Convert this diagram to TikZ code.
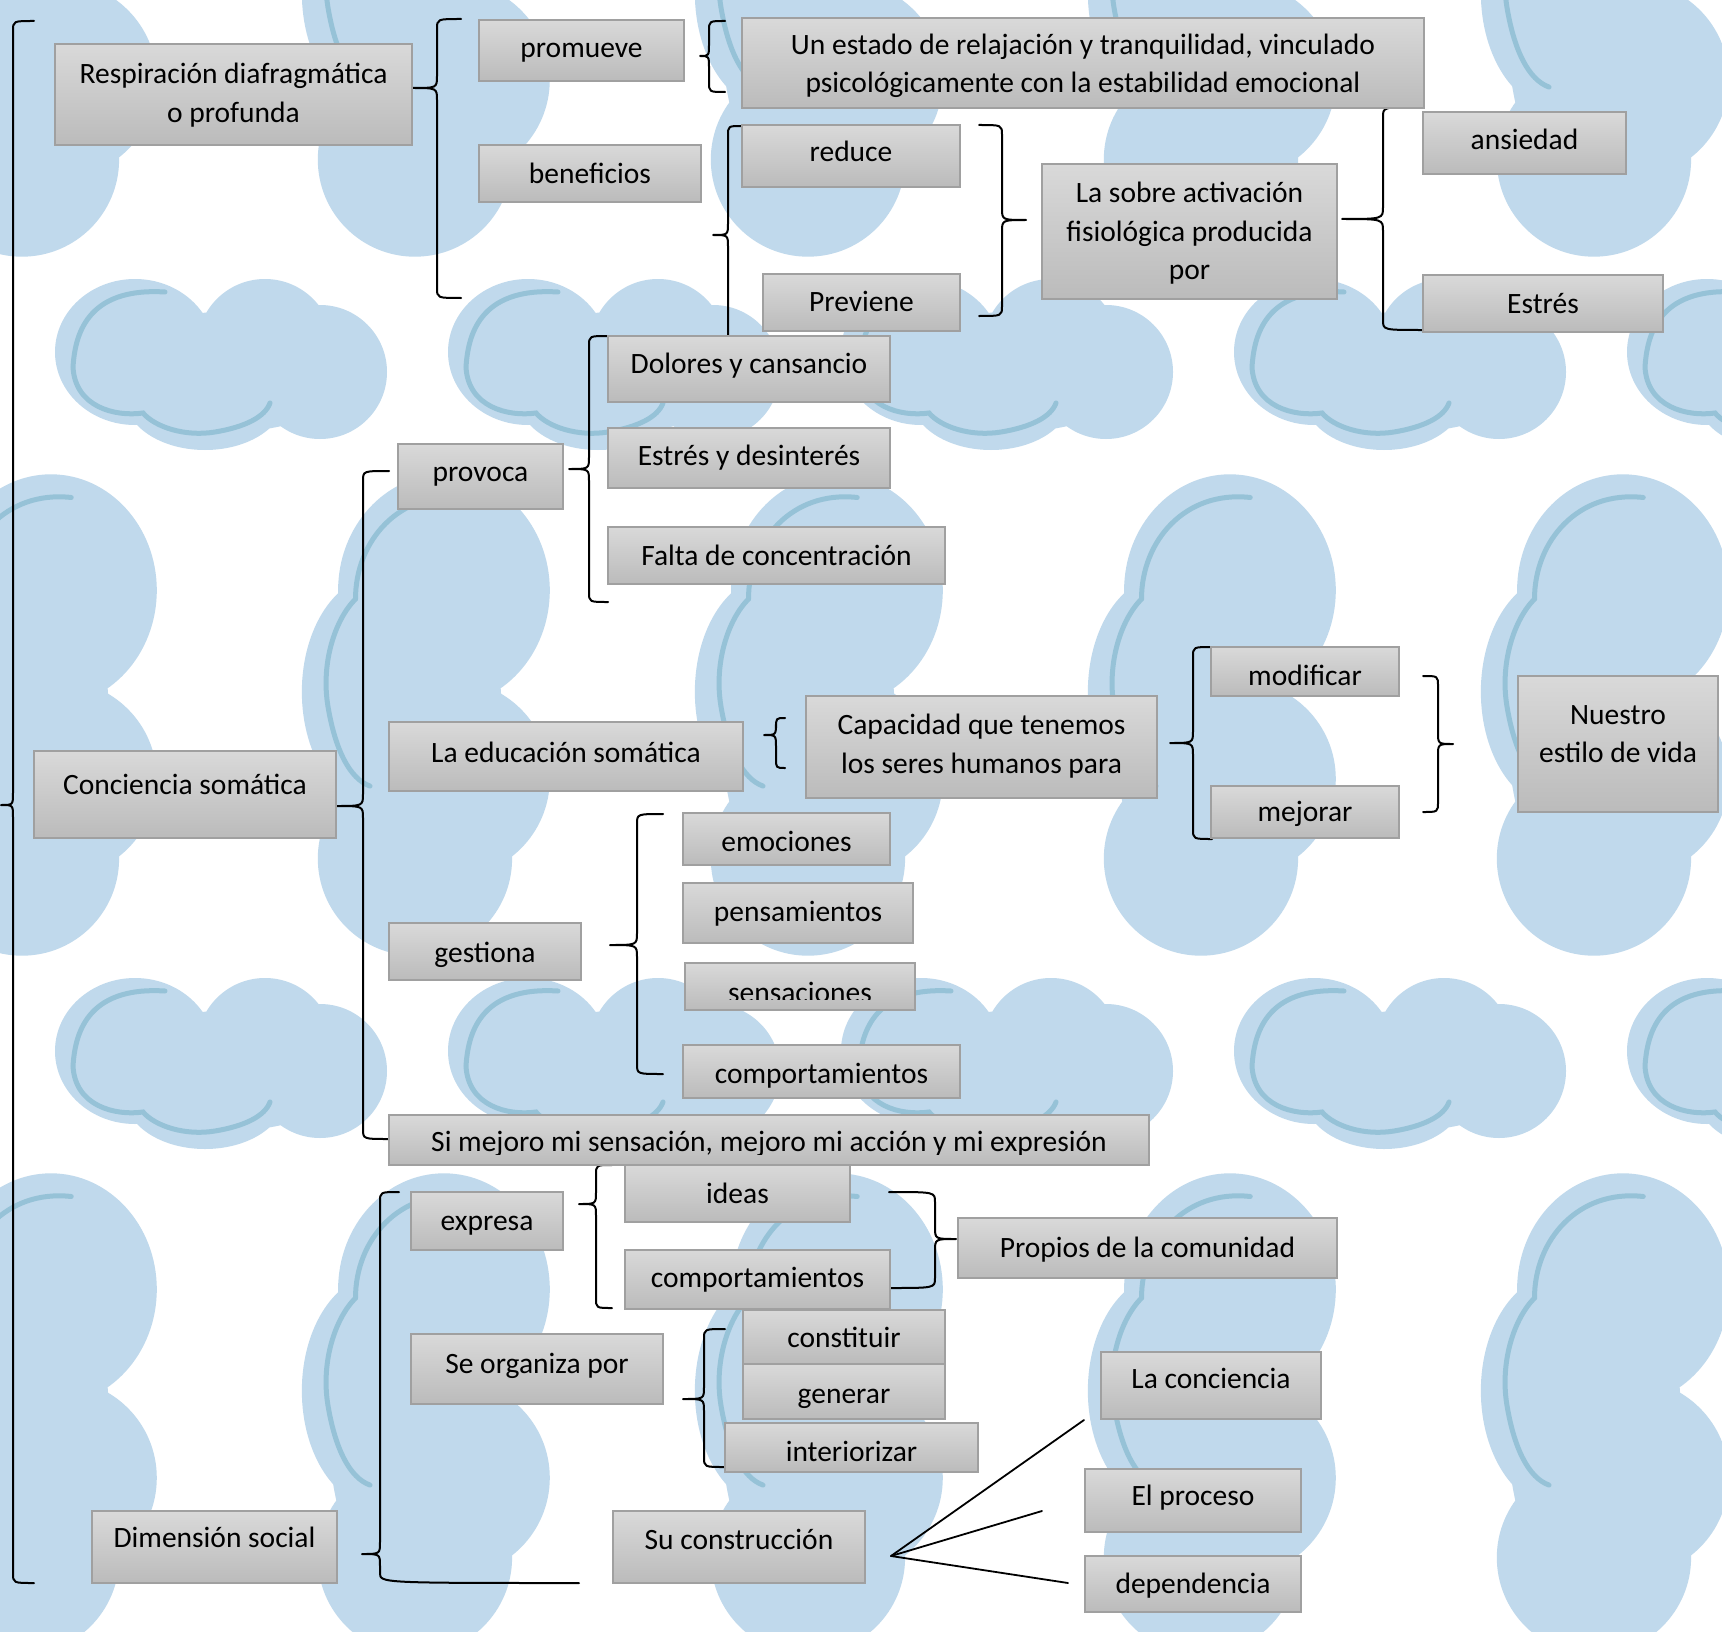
\documentclass[tikz,border=0pt]{standalone}
\usepackage{fontspec}
\setmainfont{Carlito}
\usetikzlibrary{fit}
\definecolor{cfill}{RGB}{192,217,236}
\definecolor{cline}{RGB}{150,194,215}
\definecolor{btop}{RGB}{217,217,217}
\definecolor{bbot}{RGB}{187,187,187}
\definecolor{bdraw}{RGB}{160,160,160}
\tikzset{
  box/.style={rectangle, draw=bdraw, line width=1.5pt, top color=btop, bottom color=bbot, inner sep=0pt, outer sep=0pt},
  lbl/.style={anchor=base, inner sep=0pt, font=\fontsize{29.5}{38.5}\selectfont, text=black},
  brace/.style={draw=black, line width=2pt, line cap=round, line join=round},
  cstroke/.style={draw=cline, line width=5pt, line cap=round},
}
\newcommand\ml[1]{\begin{tabular}[t]{@{}c@{}}#1\end{tabular}}
% box: [text offset]{name}{corner}{corner}{text}
\newcommand\bx[5][38]{%
  \node[box, fit={#3 #4}] (#2) {};
  \node[lbl] (#2-t) at ([yshift=-#1pt]#2.north) {#5};}
% brace: name, xh1, y1, xv, xtip, ytip, y2, xh2
\newcommand\brc[8]{%
  \coordinate (#1-a) at (#2,#3);
  \coordinate (#1-tip) at (#5,#6);
  \coordinate (#1-b) at (#8,#7);
  \draw[brace] (#1-a) .. controls (#4,#3) .. (#4,#3+10) -- (#4,#6-12)
     .. controls (#4,#6) .. (#1-tip) .. controls (#4,#6) .. (#4,#6+12)
     -- (#4,#7-10) .. controls (#4,#7) .. (#1-b);}
\newcommand\hcloud[2]{\begin{scope}[shift={(#1,#2)}]
  \fill[cfill] (-86,-11) ellipse [x radius=80pt, y radius=73pt]
    (44,-16) circle [radius=68pt]
    (99,9) circle [radius=67pt]
    (-16,34) ellipse [x radius=80pt, y radius=53pt]
    (4,9) ellipse [x radius=130pt, y radius=60pt];
  \draw[cstroke] (-56,-71) .. controls (-136,-76) and (-146,-26) .. (-148,4)
    .. controls (-146,44) and (-106,54) .. (-78,50)
    .. controls (-66,64) and (-36,74) .. (-6,69)
    .. controls (24,64) and (44,54) .. (49,40);
\end{scope}}
\newcommand\vcloud[2]{\begin{scope}[shift={(#1,#2)}, scale=1.45]
  \fill[cfill] (11,-86) ellipse [x radius=73pt, y radius=80pt]
    (16,44) circle [radius=68pt]
    (-9,99) circle [radius=67pt]
    (-34,-16) ellipse [x radius=53pt, y radius=80pt]
    (-9,4) ellipse [x radius=60pt, y radius=130pt];
  \draw[cstroke] (25,-150) .. controls (-20,-155) and (-50,-120) .. (-50,-80)
    .. controls (-64,-66) and (-74,-36) .. (-69,-6)
    .. controls (-64,24) and (-54,44) .. (-40,49);
\end{scope}}
\begin{document}
\begin{tikzpicture}[x=1pt, y=-1pt]
\useasboundingbox (0,0) rectangle (1722,1632);
\fill[white] (0,0) rectangle (1722,1632);
% background clouds
\begin{scope}
  \clip (0,0) rectangle (1722,1632);
  \foreach \n in {-1,0,1}{\foreach \k in {-1,...,4}{%
    \pgfmathsetmacro\cx{35+393*\k}\pgfmathsetmacro\cy{715+699*\n}%
    \vcloud{\cx}{\cy}}}
  \foreach \n in {0,1}{\foreach \k in {-1,...,4}{%
    \pgfmathsetmacro\cx{221+393*\k}\pgfmathsetmacro\cy{363+699*\n}%
    \hcloud{\cx}{\cy}}}
\end{scope}
% braces
\brc{B1}{34}{21}{13}{1}{805}{1583}{34}
\brc{B2}{461}{19}{437}{412}{88}{298}{461}
\brc{B3}{725}{21}{709}{700}{56}{92}{725}
\brc{B4}{742}{126}{728}{713}{235}{336}{728}
\brc{B5}{979}{125}{1002}{1026}{220}{316}{979}
\brc{B6}{1422}{107}{1383}{1342}{219}{330}{1422}
\brc{B7}{608}{336}{589}{569}{469}{602}{608}
\brc{B8}{389}{471}{363}{336}{806}{1139}{389}
\brc{B9}{785}{718}{776}{764}{735}{768}{785}
\brc{B10}{1212}{647}{1193}{1170}{743}{839}{1212}
\brc{B11}{1423}{676}{1438}{1453}{744}{812}{1423}
\brc{B12}{663}{814}{637}{610}{945}{1074}{663}
\brc{B13}{399}{1192}{380}{362}{1554}{1583}{579}
\brc{B14}{612}{1165}{596}{579}{1204}{1308}{612}
\brc{B15}{889}{1192}{935}{956}{1239}{1288}{889}
\brc{B16}{725}{1329}{704}{683}{1399}{1467}{725}
% boxes
\bx[40]{resp}{(55,44)}{(412,145)}{\ml{Respiración diafragmática\\o profunda}}
\bx[37.5]{promueve}{(479,20)}{(684,81)}{promueve}
\bx[38.5]{benef}{(479,145)}{(701,202)}{beneficios}
\bx[36.5]{estado}{(742,18)}{(1424,108)}{\ml{Un estado de relajación y tranquilidad, vinculado\\psicológicamente con la estabilidad emocional}}
\bx[36.5]{reduce}{(742,125)}{(960,187)}{reduce}
\bx[37]{previene}{(763,274)}{(960,331)}{Previene}
\bx[38.6]{sobre}{(1042,164)}{(1337,299)}{\ml{La sobre activación\\fisiológica producida\\por}}
\bx[37.6]{ansiedad}{(1423,112)}{(1626,174)}{ansiedad}
\bx[38]{estres}{(1423,275)}{(1663,332)}{Estrés}
\bx[37.8]{dolores}{(608,336)}{(890,402)}{Dolores y cansancio}
\bx[37]{estdes}{(608,428)}{(890,488)}{Estrés y desinterés}
\bx[38]{falta}{(608,527)}{(945,584)}{Falta de concentración}
\bx[37.8]{provoca}{(398,444)}{(563,509)}{provoca}
\bx[40]{educ}{(389,722)}{(743,791)}{La educación somática}
\bx[38.5]{capac}{(806,696)}{(1157,798)}{\ml{Capacidad que tenemos\\los seres humanos para}}
\bx[38]{modif}{(1211,647)}{(1399,696)}{modificar}
\bx[35]{mejorar}{(1211,786)}{(1399,838)}{mejorar}
\bx[48]{nuestro}{(1518,676)}{(1718,812)}{\ml{Nuestro\\estilo de vida}}
\bx[43]{concie}{(34,751)}{(336,838)}{Conciencia somática}
\bx[39]{gestiona}{(389,923)}{(581,980)}{gestiona}
\bx[38.4]{emoc}{(683,813)}{(890,865)}{emociones}
\bx[38.7]{pens}{(683,883)}{(913,943)}{pensamientos}
\node[box, fit={(685,963) (915,1010)}] (sens) {};
\begin{scope}
  \clip (685,963) rectangle (915,999);
  \node[lbl] (sens-t) at ([yshift=-39pt]sens.north) {sensaciones};
\end{scope}
\bx[38]{comp1}{(683,1045)}{(960,1098)}{comportamientos}
\node[box, fit={(389,1115) (1149,1165)}] (simej) {};
\begin{scope}
  \clip (389,1115) rectangle (1149,1154);
  \node[lbl] (simej-t) at ([yshift=-36.5pt]simej.north) {Si mejoro mi sensación, mejoro mi acción y mi expresión};
\end{scope}
\bx[38]{ideas}{(625,1165)}{(850,1222)}{ideas}
\bx[37]{comp2}{(625,1250)}{(890,1309)}{comportamientos}
\bx[38]{expresa}{(411,1192)}{(563,1250)}{expresa}
\bx[39]{seorg}{(411,1334)}{(663,1404)}{Se organiza por}
\bx[37.4]{constit}{(743,1310)}{(945,1364)}{constituir}
\bx[39]{generar}{(743,1364)}{(945,1419)}{generar}
\bx[38]{interior}{(725,1423)}{(978,1472)}{interiorizar}
\bx[36.5]{dimension}{(92,1511)}{(337,1583)}{Dimensión social}
\bx[38]{sucons}{(613,1511)}{(865,1583)}{Su construcción}
\bx[39]{propios}{(958,1218)}{(1337,1278)}{Propios de la comunidad}
\bx[36.5]{lacon}{(1101,1352)}{(1321,1419)}{La conciencia}
\bx[36.5]{proceso}{(1085,1469)}{(1301,1532)}{El proceso}
\bx[37]{depend}{(1085,1556)}{(1301,1612)}{dependencia}
% fan from Su construcción
\coordinate (fan) at (891,1556);
\coordinate (fan1) at (1084,1420);
\coordinate (fan2) at (1042,1511);
\coordinate (fan3) at (1068,1583);
\draw[brace, line width=1.8pt] (fan1) -- (fan) -- (fan3);
\draw[brace, line width=1.8pt] (fan) -- (fan2);
\end{tikzpicture}
\end{document}
